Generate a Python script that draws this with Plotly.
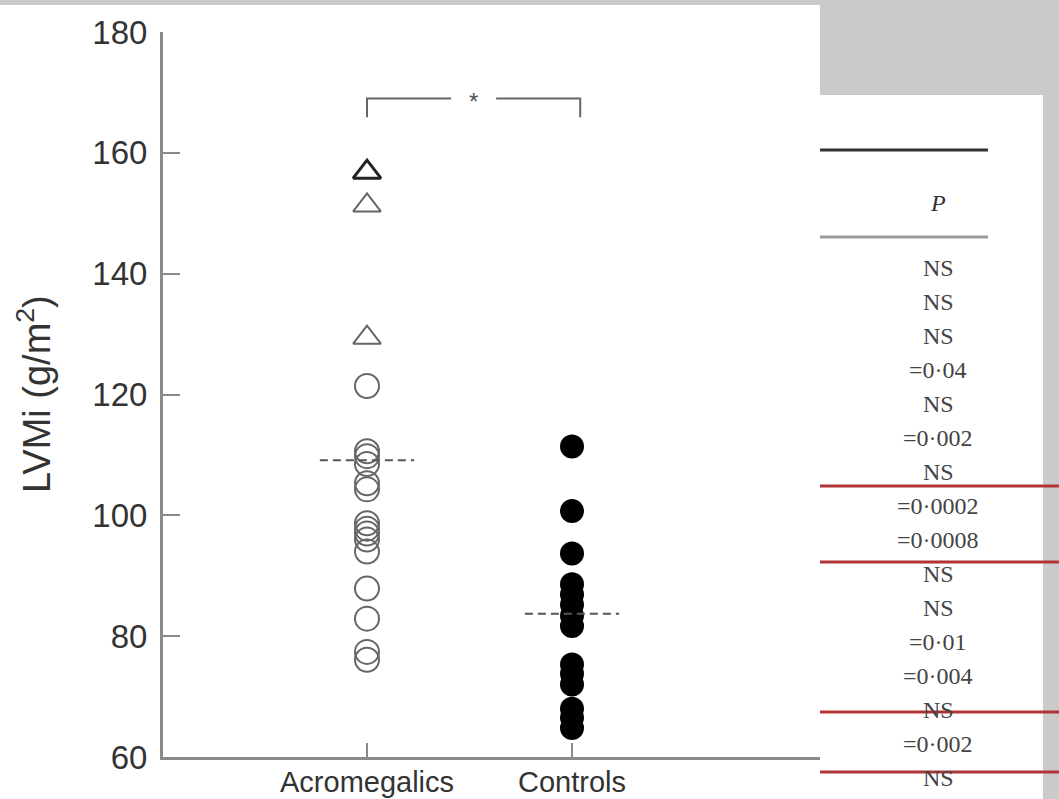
import plotly.graph_objects as go

# ---------------- data ----------------
categories = ["Acromegalics", "Controls"]
group_pos = [0, 1]
acro_circles = [121.4, 110.6, 109.8, 108.5, 105.3, 104.3, 98.7, 97.8, 97.0,
                96.0, 94.0, 87.9, 82.9, 77.4, 76.1]
acro_triangles = [156.8, 151.3, 129.4]
controls = [111.4, 100.7, 93.7, 88.6, 86.9, 85.2, 83.4, 81.7, 75.3, 73.8,
            72.0, 68.0, 66.5, 64.8]
medians = [109.1, 83.7]
y_ticks = [60, 80, 100, 120, 140, 160, 180]
y_title = "LVMi (g/m<sup>2</sup>)"
sig_label = "*"
table_header = "P"
p_values = ["NS", "NS", "NS", "=0·04", "NS", "=0·002", "NS", "=0·0002",
            "=0·0008", "NS", "NS", "=0·01", "=0·004", "NS", "=0·002", "NS"]

# ---------------- layout geometry (pixels) ----------------
W, H = 1059, 799
L, R, T, B = 163, 830, 32, 757
PW, PH = R - L, B - T


def px_x(px):
    return (px - L) / PW


def px_y(py):
    return (B - py) / PH


GRAY = "#cacaca"
AX = "#8a8a8a"
TXT = "#333333"

fig = go.Figure()

fig.add_trace(go.Scatter(
    x=[group_pos[0]] * len(acro_circles), y=acro_circles, mode="markers",
    marker=dict(symbol="circle-open", size=24, color="#666666",
                line=dict(width=2)),
    showlegend=False, cliponaxis=False))
fig.add_trace(go.Scatter(
    x=[group_pos[0]] * len(acro_triangles), y=acro_triangles, mode="markers",
    marker=dict(symbol="triangle-up-open", size=24,
                color=["#222222", "#666666", "#666666"],
                line=dict(width=[3, 2, 2])),
    showlegend=False, cliponaxis=False))
fig.add_trace(go.Scatter(
    x=[group_pos[1]] * len(controls), y=controls, mode="markers",
    marker=dict(symbol="circle", size=24, color="#000000",
                line=dict(width=0)),
    showlegend=False, cliponaxis=False))

half = 0.23
for gx, m in zip(group_pos, medians):
    fig.add_trace(go.Scatter(
        x=[gx - half, gx + half], y=[m, m], mode="lines",
        line=dict(color="#555555", width=2, dash="8px,5px"),
        showlegend=False, hoverinfo="skip"))

shapes = []
# white chart panel
shapes.append(dict(type="rect", xref="paper", yref="paper", layer="below",
                   x0=px_x(0), x1=px_x(820), y0=px_y(799), y1=px_y(5),
                   fillcolor="white", line=dict(width=0)))
# significance bracket
by0, by1 = 165.9, 169.0
shapes.append(dict(type="path", xref="x", yref="y",
                   path=f"M 0,{by0} L 0,{by1} L 0.41,{by1}",
                   line=dict(color="#666666", width=2)))
shapes.append(dict(type="path", xref="x", yref="y",
                   path=f"M 0.63,{by1} L 1.04,{by1} L 1.04,{by0}",
                   line=dict(color="#666666", width=2)))
# table panel
shapes.append(dict(type="rect", xref="paper", yref="paper", layer="above",
                   x0=px_x(820), x1=px_x(1043), y0=px_y(799), y1=px_y(95),
                   fillcolor="white", line=dict(width=0)))
shapes.append(dict(type="line", xref="paper", yref="paper", layer="above",
                   x0=px_x(820), x1=px_x(988), y0=px_y(150), y1=px_y(150),
                   line=dict(color="#333333", width=3)))
shapes.append(dict(type="line", xref="paper", yref="paper", layer="above",
                   x0=px_x(820), x1=px_x(988), y0=px_y(237), y1=px_y(237),
                   line=dict(color="#9a9a9a", width=3)))
for ry in [486, 562, 712, 772]:
    shapes.append(dict(type="line", xref="paper", yref="paper", layer="above",
                       x0=px_x(820), x1=px_x(1059), y0=px_y(ry), y1=px_y(ry),
                       line=dict(color="#b03434", width=3)))

annotations = []
annotations.append(dict(x=0.52, y=by1, xref="x", yref="y", text=sig_label,
                        showarrow=False, xanchor="center", yanchor="middle",
                        yshift=-3,
                        font=dict(family="Liberation Sans", size=24,
                                  color="#555555")))
annotations.append(dict(x=px_x(34), y=px_y(394), xref="paper", yref="paper",
                        text=y_title, textangle=-90, showarrow=False,
                        xanchor="center", yanchor="middle",
                        font=dict(family="Liberation Sans", size=38,
                                  color=TXT)))
# category labels under the x axis
for gx, c in zip(group_pos, categories):
    annotations.append(dict(x=gx, y=px_y(782), xref="x", yref="paper",
                            text=c, showarrow=False,
                            xanchor="center", yanchor="middle",
                            font=dict(family="Liberation Sans", size=29,
                                      color=TXT)))
annotations.append(dict(x=px_x(938), y=px_y(203), xref="paper", yref="paper",
                        text=f"<i>{table_header}</i>", showarrow=False,
                        xanchor="center", yanchor="middle",
                        font=dict(family="Liberation Serif", size=24,
                                  color=TXT)))
for i, t in enumerate(p_values):
    annotations.append(dict(x=px_x(938), y=px_y(268 + 34 * i), xref="paper",
                            yref="paper", text=t, showarrow=False,
                            xanchor="center", yanchor="middle",
                            font=dict(family="Liberation Serif", size=24,
                                      color="#444444")))

fig.update_layout(
    width=W, height=H,
    margin=dict(l=L, r=W - R, t=T, b=H - B, autoexpand=False),
    paper_bgcolor=GRAY, plot_bgcolor="rgba(0,0,0,0)",
    template="none",
    shapes=shapes, annotations=annotations,
    xaxis=dict(range=[(L - 367) / 205.0, (R - 367) / 205.0],
               tickvals=group_pos, ticktext=categories, showticklabels=False,
               ticks="inside", ticklen=14, tickwidth=2, tickcolor=AX,
               showline=True, linecolor=AX, linewidth=3, showgrid=False,
               zeroline=False, automargin=False),
    yaxis=dict(range=[60, 180], tickvals=y_ticks,
               ticks="inside", ticklen=17, tickwidth=2, tickcolor=AX,
               showline=True, linecolor=AX, linewidth=3, showgrid=False,
               zeroline=False, automargin=False, ticklabelstandoff=6,
               tickfont=dict(family="Liberation Sans", size=33, color=TXT)),
)

fig.write_html("out.html",
               config={"displayModeBar": False},
               post_script="document.body.style.margin='0';"
                           "document.body.style.overflow='hidden';")
